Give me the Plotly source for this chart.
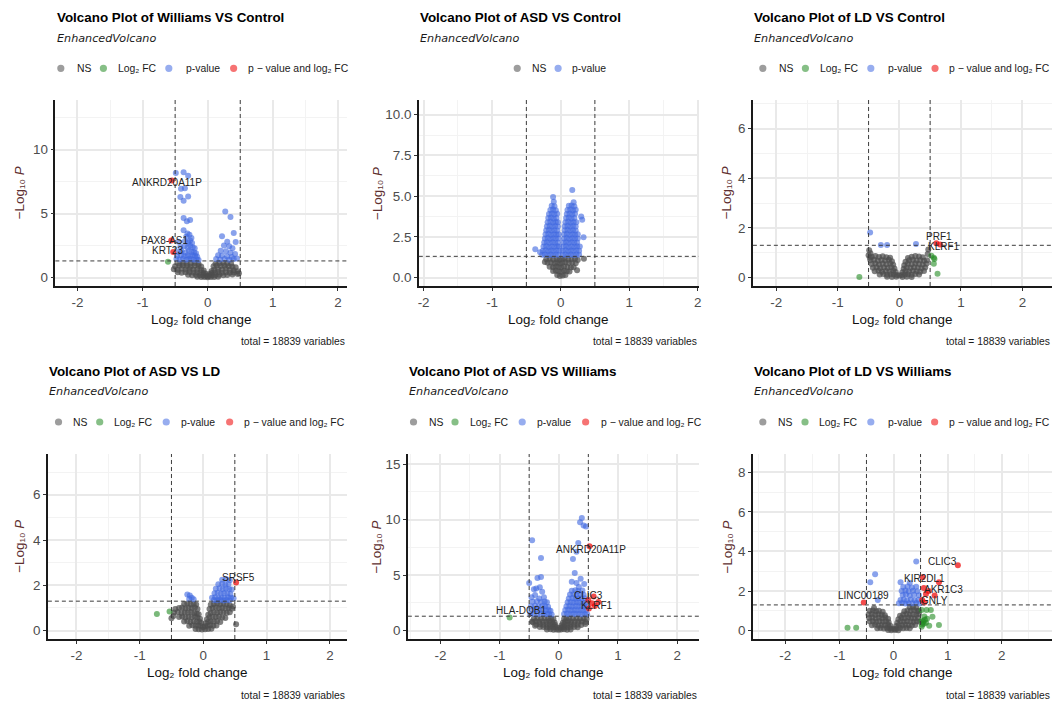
import math
import plotly.graph_objects as go

W, H = 1056, 704
FONT = "Liberation Sans, Arial, sans-serif"

FC_CUTOFF = 0.5
P_CUTOFF = 0.05

X_TICKS = [-2, -1, 0, 1, 2]
X_TICK_TEXT = ["-2", "-1", "0", "1", "2"]
X_MINOR = [-2.5, -1.5, -0.5, 0.5, 1.5, 2.5]

CATEGORIES = ["NS", "Log\u2082 FC", "p-value", "p \u2212 value and log\u2082 FC"]
CAPTION = "total = 18839 variables"
SUBTITLE = "EnhancedVolcano"
X_TITLE = "Log\u2082 fold change"
Y_TITLE = "\u2212Log\u2081\u2080 <i>P</i>"

# ---------------- Panel 1: Williams VS Control ----------------
wc_ns_x = [-0.44, -0.38, -0.32, -0.26, -0.20, -0.14, 0.12, 0.18, 0.24, 0.30, 0.36,
           -0.50, -0.44, -0.38, -0.32, -0.26, -0.20, -0.14, -0.10, 0.09, 0.14, 0.20, 0.26, 0.32, 0.38, 0.43,
           -0.52, -0.46, -0.40, -0.34, -0.28, -0.22, -0.16, -0.10, -0.06, 0.06, 0.10, 0.16, 0.22, 0.28, 0.34, 0.40, 0.46,
           -0.46, -0.40, -0.34, -0.28, -0.22, -0.16, -0.11, -0.06, -0.03, 0.03, 0.06, 0.11, 0.16, 0.22, 0.28, 0.34, 0.40, 0.48,
           -0.30, -0.24, -0.18, -0.12, -0.07, -0.03, 0.00, 0.03, 0.07, 0.12, 0.18, 0.24, 0.30, 0.38, 0.46,
           -0.16, -0.10, -0.05, 0.00, 0.05, 0.10, 0.16]
wc_ns_y = [1.10, 1.13, 1.08, 1.12, 1.14, 1.07, 1.09, 1.12, 1.14, 1.11, 1.08,
           0.88, 0.92, 0.95, 0.90, 0.87, 0.93, 0.91, 0.86, 0.89, 0.94, 0.90, 0.92, 0.88, 0.85, 0.80,
           0.66, 0.62, 0.68, 0.64, 0.67, 0.63, 0.66, 0.60, 0.55, 0.52, 0.62, 0.66, 0.64, 0.68, 0.62, 0.58, 0.50,
           0.42, 0.38, 0.41, 0.44, 0.39, 0.42, 0.40, 0.36, 0.30, 0.28, 0.35, 0.40, 0.43, 0.38, 0.41, 0.37, 0.40, 0.33,
           0.22, 0.18, 0.21, 0.19, 0.17, 0.14, 0.10, 0.15, 0.18, 0.20, 0.22, 0.19, 0.21, 0.24, 0.27,
           0.06, 0.04, 0.05, 0.03, 0.05, 0.04, 0.06]
wc_fc_x = [-0.61]
wc_fc_y = [1.23]
wc_p_x = [-0.49, -0.37, -0.30, -0.41, -0.35, -0.42, -0.37, -0.30,
          -0.37, -0.27, -0.32, -0.37, -0.31, -0.28, -0.33, -0.25,
          -0.45, -0.35, -0.30, -0.27, -0.24,
          -0.42, -0.36, -0.31, -0.27, -0.23, -0.20,
          -0.45, -0.40, -0.34, -0.29, -0.25, -0.21, -0.18,
          -0.47, -0.41, -0.36, -0.31, -0.27, -0.23, -0.19, -0.16,
          -0.48, -0.43, -0.38, -0.33, -0.29, -0.25, -0.21, -0.17, -0.14,
          0.27, 0.35, 0.40, 0.22, 0.43, 0.30, 0.25, 0.33, 0.38, 0.20, 0.28, 0.35,
          0.42, 0.16, 0.22, 0.30, 0.37, 0.13, 0.19, 0.26, 0.33, 0.40, 0.45]
wc_p_y = [8.18, 8.23, 7.97, 6.95, 6.98, 6.30, 6.00, 6.35,
          4.66, 4.50, 4.40, 3.70, 3.45, 3.35, 3.20, 3.10,
          2.80, 2.85, 2.75, 2.90, 2.70,
          2.40, 2.45, 2.35, 2.50, 2.38, 2.30,
          2.00, 2.05, 1.95, 2.10, 2.02, 1.98, 1.90,
          1.70, 1.75, 1.68, 1.72, 1.66, 1.74, 1.70, 1.62,
          1.45, 1.42, 1.48, 1.40, 1.46, 1.43, 1.40, 1.44, 1.38,
          5.16, 4.74, 3.49, 3.23, 2.79, 2.80, 2.50, 2.45, 2.30, 2.10, 2.05, 1.95,
          1.85, 1.75, 1.70, 1.65, 1.60, 1.45, 1.42, 1.45, 1.40, 1.45, 1.50]
wc_both_x = [-0.55, -0.56, -0.53]
wc_both_y = [7.60, 2.90, 2.00]
wc_labels = ["ANKRD20A11P", "PAX8-AS1", "KRT23"]
wc_label_x = [-0.62, -0.67, -0.62]
wc_label_y = [7.45, 2.91, 2.13]
wc_yticks = [0, 5, 10]
wc_yticktext = ["0", "5", "10"]
wc_yminor = [2.5, 7.5, 12.5]

# ---------------- Panel 2: ASD VS Control ----------------
ac_ns_x = [-0.21, -0.16, -0.11, -0.06, -0.02, 0.02, 0.06, 0.11, 0.16, 0.21, 0.25,
           -0.19, -0.14, -0.09, -0.05, -0.01, 0.03, 0.07, 0.12, 0.17, 0.22,
           -0.16, -0.11, -0.07, -0.03, 0.01, 0.05, 0.10, 0.15, 0.19,
           -0.11, -0.07, -0.03, 0.01, 0.05, 0.09, 0.13,
           -0.05, -0.01, 0.03, 0.07,
           0.34, -0.23, 0.24]
ac_ns_y = [1.12, 1.15, 1.10, 1.14, 1.09, 1.12, 1.15, 1.10, 1.13, 1.15, 1.08,
           0.90, 0.93, 0.88, 0.92, 0.86, 0.91, 0.94, 0.89, 0.92, 0.87,
           0.66, 0.63, 0.68, 0.64, 0.62, 0.67, 0.65, 0.61, 0.63,
           0.40, 0.42, 0.38, 0.36, 0.41, 0.39, 0.37,
           0.15, 0.10, 0.12, 0.16,
           1.15, 0.95, 0.45]
ac_fc_x = []
ac_fc_y = []
ac_p_x = [-0.27, -0.23, -0.19, -0.15, -0.11, -0.07, -0.03,
          -0.26, -0.22, -0.18, -0.14, -0.10, -0.06, -0.02,
          -0.25, -0.21, -0.17, -0.13, -0.09, -0.05, -0.02,
          -0.24, -0.20, -0.16, -0.12, -0.08, -0.04,
          -0.23, -0.19, -0.15, -0.11, -0.07, -0.03,
          -0.22, -0.18, -0.14, -0.10, -0.06, -0.03,
          -0.21, -0.17, -0.13, -0.09, -0.05,
          -0.20, -0.16, -0.12, -0.08, -0.04,
          -0.19, -0.15, -0.11, -0.07, -0.04,
          -0.18, -0.14, -0.10, -0.06,
          -0.17, -0.13, -0.09, -0.05,
          -0.15, -0.11, -0.07,
          -0.13, -0.09,
          -0.11, -0.10, -0.37, -0.30,
          0.03, 0.07, 0.11, 0.15, 0.19, 0.23, 0.27,
          0.03, 0.07, 0.11, 0.15, 0.19, 0.23, 0.27,
          0.04, 0.08, 0.12, 0.16, 0.20, 0.24, 0.28,
          0.04, 0.08, 0.12, 0.16, 0.20, 0.24,
          0.05, 0.09, 0.13, 0.17, 0.21, 0.25,
          0.05, 0.09, 0.13, 0.17, 0.21, 0.25,
          0.06, 0.10, 0.14, 0.18, 0.22,
          0.06, 0.10, 0.14, 0.18, 0.22,
          0.07, 0.11, 0.15, 0.19, 0.23,
          0.08, 0.12, 0.16, 0.20,
          0.09, 0.13, 0.17, 0.21,
          0.10, 0.14, 0.18, 0.22,
          0.12, 0.16, 0.20,
          0.17, 0.315, 0.30, 0.335, 0.19]
ac_p_y = [1.40, 1.42, 1.38, 1.41, 1.39, 1.42, 1.40,
          1.65, 1.67, 1.63, 1.66, 1.64, 1.66, 1.65,
          1.90, 1.92, 1.88, 1.91, 1.89, 1.92, 1.90,
          2.15, 2.17, 2.13, 2.16, 2.14, 2.15,
          2.40, 2.42, 2.38, 2.41, 2.39, 2.40,
          2.65, 2.67, 2.63, 2.66, 2.64, 2.65,
          2.90, 2.92, 2.88, 2.91, 2.89,
          3.15, 3.17, 3.13, 3.16, 3.14,
          3.40, 3.42, 3.38, 3.41, 3.39,
          3.65, 3.67, 3.63, 3.66,
          3.90, 3.92, 3.88, 3.91,
          4.15, 4.17, 4.13,
          4.40, 4.38,
          4.95, 4.65, 1.74, 1.55,
          1.40, 1.42, 1.38, 1.41, 1.39, 1.42, 1.40,
          1.65, 1.67, 1.63, 1.66, 1.64, 1.66, 1.65,
          1.90, 1.92, 1.88, 1.91, 1.89, 1.92, 1.90,
          2.15, 2.17, 2.13, 2.16, 2.14, 2.15,
          2.40, 2.42, 2.38, 2.41, 2.39, 2.40,
          2.65, 2.67, 2.63, 2.66, 2.64, 2.65,
          2.90, 2.92, 2.88, 2.91, 2.89,
          3.15, 3.17, 3.13, 3.16, 3.14,
          3.40, 3.42, 3.38, 3.41, 3.39,
          3.65, 3.67, 3.63, 3.66,
          3.90, 3.92, 3.88, 3.91,
          4.15, 4.17, 4.13, 4.16,
          4.40, 4.42, 4.38,
          5.38, 3.55, 3.75, 2.47, 4.62]
ac_both_x = []
ac_both_y = []
ac_labels = []
ac_label_x = []
ac_label_y = []
ac_yticks = [0, 2.5, 5, 7.5, 10]
ac_yticktext = ["0.0", "2.5", "5.0", "7.5", "10.0"]
ac_yminor = [1.25, 3.75, 6.25, 8.75]

# ---------------- Panel 3: LD VS Control ----------------
lc_ns_x = [-0.45, -0.39, -0.33, -0.27, -0.21, -0.15, 0.14, 0.20, 0.26, 0.32, 0.38,
           -0.47, -0.41, -0.35, -0.29, -0.23, -0.17, -0.12, 0.10, 0.16, 0.22, 0.28, 0.34, 0.40, 0.45,
           -0.45, -0.39, -0.33, -0.27, -0.21, -0.15, -0.10, 0.08, 0.14, 0.20, 0.26, 0.32, 0.38, 0.44,
           -0.43, -0.37, -0.31, -0.25, -0.19, -0.13, -0.08, 0.07, 0.12, 0.18, 0.24, 0.30, 0.36, 0.42,
           -0.40, -0.34, -0.28, -0.22, -0.16, -0.10, -0.06, 0.05, 0.10, 0.16, 0.22, 0.28, 0.34, 0.40,
           -0.32, -0.26, -0.20, -0.14, -0.09, -0.04, 0.00, 0.04, 0.09, 0.14, 0.20, 0.26, 0.32,
           -0.20, -0.12, -0.05, 0.05, 0.12, 0.20,
           -0.49, -0.47, -0.50, 0.47, -0.48, 0.46]
lc_ns_y = [0.84, 0.87, 0.83, 0.86, 0.82, 0.80, 0.79, 0.84, 0.87, 0.85, 0.82,
           0.70, 0.72, 0.68, 0.71, 0.69, 0.72, 0.66, 0.64, 0.70, 0.72, 0.69, 0.71, 0.68, 0.70,
           0.55, 0.57, 0.53, 0.56, 0.54, 0.57, 0.52, 0.50, 0.56, 0.54, 0.57, 0.55, 0.53, 0.56,
           0.40, 0.42, 0.38, 0.41, 0.39, 0.42, 0.37, 0.36, 0.41, 0.39, 0.42, 0.40, 0.38, 0.41,
           0.25, 0.27, 0.23, 0.26, 0.24, 0.27, 0.22, 0.21, 0.26, 0.24, 0.27, 0.25, 0.23, 0.26,
           0.12, 0.14, 0.11, 0.13, 0.12, 0.10, 0.08, 0.10, 0.12, 0.13, 0.11, 0.14, 0.12,
           0.03, 0.02, 0.03, 0.02, 0.03, 0.02,
           1.10, 0.98, 0.90, 1.13, 0.80, 0.95]
lc_fc_x = [-0.65, 0.52, 0.56, 0.57, 0.56, 0.62]
lc_fc_y = [0.02, 0.88, 0.80, 0.75, 0.56, 0.15]
lc_p_x = [-0.475, -0.30, -0.20, 0.27]
lc_p_y = [1.82, 1.31, 1.31, 1.35]
lc_both_x = [0.60, 0.66]
lc_both_y = [1.38, 1.33]
lc_labels = ["PRF1", "KLRF1"]
lc_label_x = [0.65, 0.73]
lc_label_y = [1.66, 1.24]
lc_yticks = [0, 2, 4, 6]
lc_yticktext = ["0", "2", "4", "6"]
lc_yminor = [1, 3, 5, 7]

# ---------------- Panel 4: ASD VS LD ----------------
al_ns_x = [-0.30, -0.25, -0.20, -0.15, -0.11, 0.12, 0.17, 0.22, 0.27, 0.32, 0.37, 0.42,
           -0.38, -0.33, -0.28, -0.23, -0.18, -0.13, -0.09, 0.10, 0.15, 0.20, 0.25, 0.30, 0.35, 0.40, 0.45,
           -0.46, -0.40, -0.34, -0.29, -0.24, -0.19, -0.14, -0.10, -0.07, 0.08, 0.12, 0.17, 0.22, 0.27, 0.32, 0.37, 0.42,
           -0.38, -0.33, -0.28, -0.23, -0.18, -0.13, -0.09, -0.05, 0.06, 0.10, 0.15, 0.20, 0.25, 0.30, 0.35,
           -0.30, -0.25, -0.20, -0.15, -0.10, -0.06, -0.03, 0.04, 0.08, 0.12, 0.17, 0.22, 0.27,
           -0.22, -0.17, -0.12, -0.08, -0.04, 0.00, 0.03, 0.07, 0.11, 0.16, 0.21,
           -0.12, -0.07, -0.02, 0.03, 0.08, 0.13,
           0.52, -0.50, -0.47, -0.44, 0.47]
al_ns_y = [1.18, 1.20, 1.16, 1.19, 1.15, 1.14, 1.18, 1.20, 1.17, 1.19, 1.16, 1.12,
           1.00, 1.02, 0.98, 1.01, 0.99, 1.02, 0.96, 0.95, 1.00, 1.02, 0.99, 1.01, 0.98, 1.00, 0.97,
           0.80, 0.82, 0.78, 0.81, 0.79, 0.82, 0.78, 0.76, 0.72, 0.70, 0.78, 0.81, 0.79, 0.82, 0.80, 0.78, 0.81,
           0.60, 0.62, 0.58, 0.61, 0.59, 0.62, 0.58, 0.52, 0.50, 0.59, 0.61, 0.60, 0.62, 0.58, 0.56,
           0.40, 0.42, 0.38, 0.41, 0.39, 0.40, 0.34, 0.33, 0.39, 0.41, 0.40, 0.42, 0.38,
           0.22, 0.24, 0.21, 0.23, 0.20, 0.16, 0.19, 0.22, 0.24, 0.21, 0.23,
           0.07, 0.06, 0.05, 0.06, 0.07, 0.08,
           0.28, 0.55, 0.65, 0.95, 1.07]
al_fc_x = [-0.73, -0.53]
al_fc_y = [0.73, 0.84]
al_p_x = [-0.25, -0.21, -0.18, -0.15, -0.22,
          0.30, 0.36, 0.42,
          0.24, 0.30, 0.35, 0.40,
          0.20, 0.26, 0.31, 0.36, 0.41, 0.45,
          0.18, 0.23, 0.28, 0.33, 0.38, 0.43,
          0.14, 0.19, 0.24, 0.29, 0.34, 0.39, 0.44, 0.48,
          0.17, 0.22, 0.27, 0.32, 0.37, 0.42]
al_p_y = [1.60, 1.55, 1.45, 1.38, 1.40,
          2.25, 2.28, 2.22,
          2.05, 2.07, 2.03, 2.06,
          1.85, 1.87, 1.83, 1.86, 1.84, 1.82,
          1.65, 1.67, 1.63, 1.66, 1.64, 1.62,
          1.45, 1.47, 1.43, 1.46, 1.44, 1.47, 1.45, 1.43,
          1.35, 1.34, 1.36, 1.33, 1.35, 1.34]
al_both_x = [0.52]
al_both_y = [2.13]
al_labels = ["SRSF5"]
al_label_x = [0.56]
al_label_y = [2.36]
al_yticks = [0, 2, 4, 6]
al_yticktext = ["0", "2", "4", "6"]
al_yminor = [1, 3, 5, 7]

# ---------------- Panel 5: ASD VS Williams ----------------
aw_ns_x = [-0.42, -0.36, -0.30, -0.24, -0.18, -0.13, -0.09, 0.09, 0.13, 0.18, 0.24, 0.30, 0.36, 0.42, 0.47,
           -0.45, -0.39, -0.33, -0.27, -0.21, -0.16, -0.11, -0.07, 0.07, 0.11, 0.16, 0.21, 0.27, 0.33, 0.39, 0.45,
           -0.38, -0.32, -0.26, -0.20, -0.15, -0.10, -0.06, 0.05, 0.10, 0.15, 0.20, 0.26, 0.32, 0.38,
           -0.32, -0.26, -0.20, -0.15, -0.10, -0.06, -0.03, 0.03, 0.06, 0.10, 0.15, 0.20, 0.26, 0.32,
           -0.20, -0.14, -0.09, -0.04, 0.00, 0.04, 0.09, 0.14, 0.20,
           -0.40, -0.44, 0.45]
aw_ns_y = [1.08, 1.10, 1.06, 1.09, 1.07, 1.10, 1.04, 1.04, 1.09, 1.07, 1.10, 1.08, 1.06, 1.09, 1.05,
           0.82, 0.84, 0.80, 0.83, 0.81, 0.84, 0.80, 0.74, 0.72, 0.82, 0.84, 0.81, 0.83, 0.80, 0.83, 0.78,
           0.56, 0.58, 0.54, 0.57, 0.55, 0.58, 0.50, 0.48, 0.57, 0.55, 0.58, 0.56, 0.54, 0.52,
           0.32, 0.34, 0.30, 0.33, 0.31, 0.34, 0.28, 0.27, 0.31, 0.33, 0.30, 0.34, 0.32, 0.30,
           0.10, 0.12, 0.09, 0.11, 0.08, 0.10, 0.12, 0.09, 0.11,
           0.45, 0.75, 0.60]
aw_fc_x = [-0.83]
aw_fc_y = [1.19]
aw_p_x = [-0.45, -0.30, -0.36, -0.30, -0.50, -0.42, -0.38, -0.32, -0.46, -0.40, -0.28, -0.33, -0.25,
          -0.44, -0.37, -0.30, -0.24, -0.20,
          -0.47, -0.40, -0.34, -0.28, -0.23, -0.18,
          -0.45, -0.39, -0.33, -0.27, -0.22, -0.17, -0.14,
          -0.48, -0.42, -0.36, -0.30, -0.25, -0.20, -0.16, -0.12,
          0.39, 0.36, 0.42, 0.46, 0.33, 0.30, 0.24, 0.37, 0.34, 0.27, 0.43, 0.22, 0.30,
          0.22, 0.28, 0.33, 0.40,
          0.19, 0.25, 0.30, 0.36, 0.42,
          0.17, 0.23, 0.28, 0.33, 0.38, 0.44,
          0.15, 0.20, 0.25, 0.30, 0.35, 0.40, 0.45,
          0.13, 0.18, 0.23, 0.28, 0.33, 0.38, 0.43, 0.47,
          0.11, 0.16, 0.21, 0.26, 0.31, 0.36, 0.41, 0.46,
          0.09, 0.14, 0.19, 0.24, 0.29, 0.34, 0.39, 0.44, 0.48]
aw_p_y = [8.13, 6.55, 4.73, 4.82, 4.29, 3.72, 3.80, 3.90, 3.00, 3.20, 3.50, 2.90, 3.00,
          2.60, 2.64, 2.58, 2.62, 2.56,
          2.20, 2.24, 2.18, 2.22, 2.19, 2.16,
          1.85, 1.88, 1.83, 1.87, 1.84, 1.86, 1.80,
          1.50, 1.53, 1.48, 1.52, 1.49, 1.51, 1.47, 1.45,
          10.15, 9.76, 9.46, 9.37, 7.90, 7.10, 6.46, 4.67, 3.93, 5.20, 4.20, 4.40, 4.30,
          3.60, 3.64, 3.58, 3.62,
          3.25, 3.28, 3.22, 3.27, 3.24,
          2.90, 2.93, 2.88, 2.92, 2.89, 2.91,
          2.55, 2.58, 2.53, 2.57, 2.54, 2.56, 2.52,
          2.20, 2.23, 2.18, 2.22, 2.19, 2.21, 2.18, 2.20,
          1.85, 1.88, 1.83, 1.87, 1.84, 1.86, 1.83, 1.85,
          1.50, 1.53, 1.48, 1.52, 1.49, 1.51, 1.48, 1.50, 1.47]
aw_both_x = [0.52, 0.50, 0.59, 0.56, 0.51, 0.61, 0.67]
aw_both_y = [7.60, 2.77, 3.07, 2.47, 2.00, 2.23, 2.59]
aw_labels = ["ANKRD20A11P", "CLIC3", "KLRF1", "HLA-DQB1"]
aw_label_x = [0.55, 0.51, 0.64, -0.64]
aw_label_y = [7.35, 3.13, 2.29, 1.85]
aw_yticks = [0, 5, 10, 15]
aw_yticktext = ["0", "5", "10", "15"]
aw_yminor = [2.5, 7.5, 12.5]

# ---------------- Panel 6: LD VS Williams ----------------
lw_ns_x = [0.30, 0.36, 0.42,
           -0.44, -0.38, -0.32, 0.20, 0.26, 0.32, 0.38, 0.44,
           -0.46, -0.40, -0.34, -0.28, -0.22, -0.16, 0.12, 0.18, 0.24, 0.30, 0.36, 0.42, 0.47,
           -0.45, -0.39, -0.33, -0.27, -0.21, -0.15, -0.10, 0.09, 0.15, 0.21, 0.27, 0.33, 0.39, 0.45,
           -0.44, -0.38, -0.32, -0.26, -0.20, -0.14, -0.09, 0.07, 0.13, 0.19, 0.25, 0.31, 0.37, 0.43, 0.48,
           -0.40, -0.34, -0.28, -0.22, -0.16, -0.10, -0.06, 0.05, 0.10, 0.16, 0.22, 0.28, 0.34, 0.40,
           -0.30, -0.24, -0.18, -0.12, -0.07, -0.03, 0.02, 0.06, 0.12, 0.18, 0.24, 0.30,
           -0.10, -0.04, 0.03, 0.09,
           -0.36, -0.27, -0.20, 0.47]
lw_ns_y = [1.18, 1.20, 1.16,
           1.00, 1.02, 0.98, 0.98, 1.02, 1.00, 1.03, 0.99,
           0.82, 0.84, 0.80, 0.83, 0.81, 0.78, 0.76, 0.82, 0.84, 0.81, 0.83, 0.80, 0.84,
           0.64, 0.66, 0.62, 0.65, 0.63, 0.66, 0.60, 0.58, 0.65, 0.63, 0.66, 0.64, 0.62, 0.65,
           0.46, 0.48, 0.44, 0.47, 0.45, 0.48, 0.42, 0.40, 0.47, 0.45, 0.48, 0.46, 0.44, 0.47, 0.45,
           0.28, 0.30, 0.26, 0.29, 0.27, 0.30, 0.25, 0.24, 0.29, 0.27, 0.30, 0.28, 0.26, 0.29,
           0.12, 0.14, 0.11, 0.13, 0.12, 0.10, 0.09, 0.11, 0.13, 0.12, 0.14, 0.12,
           0.03, 0.02, 0.03, 0.02,
           1.15, 1.00, 0.95, 1.00]
lw_fc_x = [-0.85, -0.69, 0.52, 0.61, 0.69, 0.72, 0.57, 0.52, 0.55, 0.58, 0.62, 0.53, 0.56, 0.60, 0.66, 0.84, 0.52]
lw_fc_y = [0.15, 0.15, 1.05, 1.05, 1.05, 0.70, 0.72, 0.50, 0.45, 0.55, 0.60, 0.30, 0.35, 0.40, 0.25, 0.29, 0.20]
lw_p_x = [0.42, -0.34, -0.43, -0.29,
          0.13, 0.30,
          0.18, 0.26, 0.34, 0.42,
          0.15, 0.22, 0.28, 0.36, 0.44,
          0.17, 0.23, 0.30, 0.38, 0.47,
          0.13, 0.19, 0.25, 0.32, 0.39, 0.46,
          0.10, 0.16, 0.22, 0.28, 0.35, 0.42, 0.48]
lw_p_y = [3.49, 2.85, 2.45, 1.55,
          2.45, 2.42,
          2.20, 2.23, 2.18, 2.22,
          2.00, 2.03, 1.98, 2.02, 1.99,
          1.80, 1.83, 1.78, 1.82, 1.79,
          1.55, 1.58, 1.53, 1.57, 1.54, 1.56,
          1.38, 1.40, 1.37, 1.39, 1.38, 1.40, 1.37]
lw_both_x = [-0.55, 1.19, 0.84, 0.54, 0.56, 0.60, 0.76, 0.53, 0.57, 0.65]
lw_both_y = [1.42, 3.30, 2.45, 2.70, 2.15, 1.85, 1.78, 1.55, 1.42, 2.00]
lw_labels = ["CLIC3", "KIR2DL1", "AKR1C3", "GNLY", "LINC00189"]
lw_label_x = [0.90, 0.57, 0.93, 0.75, -0.55]
lw_label_y = [3.47, 2.62, 2.07, 1.51, 1.76]
lw_yticks = [0, 2, 4, 6, 8]
lw_yticktext = ["0", "2", "4", "6", "8"]
lw_yminor = [1, 3, 5, 7]

# ---------------- styling / layout (pixels) ----------------
COLORS = ["#4d4d4d", "#228b22", "#4169e1", "#ee0000"]
OPACITY = [0.72, 0.6, 0.62, 0.7]
MARKER_SIZE = 6
LEGEND_FILL = ["rgba(77,77,77,0.55)", "rgba(34,139,34,0.55)", "rgba(65,105,225,0.55)", "rgba(238,0,0,0.55)"]

panels = [
    dict(title="Volcano Plot of Williams VS Control",
         series=[(wc_ns_x, wc_ns_y), (wc_fc_x, wc_fc_y), (wc_p_x, wc_p_y), (wc_both_x, wc_both_y)],
         labels=(wc_labels, wc_label_x, wc_label_y),
         yticks=(wc_yticks, wc_yticktext, wc_yminor),
         xr=[-2.34, 2.14], yr=[-0.66, 13.89],
         box=(54.5, 347, 100, 286), row=0,
         legend=[(0, 60, 75), (1, 102.7, 116), (2, 168.3, 184.3), (3, 233.3, 246.7)],
         ytitle_x=18.3),
    dict(title="Volcano Plot of ASD VS Control",
         series=[(ac_ns_x, ac_ns_y), (ac_fc_x, ac_fc_y), (ac_p_x, ac_p_y), (ac_both_x, ac_both_y)],
         labels=(ac_labels, ac_label_x, ac_label_y),
         yticks=(ac_yticks, ac_yticktext, ac_yminor),
         xr=[-2.07, 2.02], yr=[-0.52, 10.9],
         box=(419, 700, 100, 286), row=0,
         legend=[(0, 517.7, 532), (2, 558.7, 572)],
         ytitle_x=377),
    dict(title="Volcano Plot of LD VS Control",
         series=[(lc_ns_x, lc_ns_y), (lc_fc_x, lc_fc_y), (lc_p_x, lc_p_y), (lc_both_x, lc_both_y)],
         labels=(lc_labels, lc_label_x, lc_label_y),
         yticks=(lc_yticks, lc_yticktext, lc_yminor),
         xr=[-2.38, 2.48], yr=[-0.34, 7.16],
         box=(754, 1054, 100, 286), row=0,
         legend=[(0, 764, 779), (1, 806.7, 820), (2, 872.3, 888.3), (3, 936.7, 949.7)],
         ytitle_x=727.3),
    dict(title="Volcano Plot of ASD VS LD",
         series=[(al_ns_x, al_ns_y), (al_fc_x, al_fc_y), (al_p_x, al_p_y), (al_both_x, al_both_y)],
         labels=(al_labels, al_label_x, al_label_y),
         yticks=(al_yticks, al_yticktext, al_yminor),
         xr=[-2.45, 2.27], yr=[-0.37, 7.8],
         box=(47, 347, 454, 639), row=1,
         legend=[(0, 57.7, 70.7), (1, 99, 112.7), (2, 165.7, 180), (3, 229.3, 242.7)],
         ytitle_x=18.3),
    dict(title="Volcano Plot of ASD VS Williams",
         series=[(aw_ns_x, aw_ns_y), (aw_fc_x, aw_fc_y), (aw_p_x, aw_p_y), (aw_both_x, aw_both_y)],
         labels=(aw_labels, aw_label_x, aw_label_y),
         yticks=(aw_yticks, aw_yticktext, aw_yminor),
         xr=[-2.55, 2.37], yr=[-0.75, 15.9],
         box=(408, 700, 454, 639), row=1,
         legend=[(0, 413.7, 428), (1, 455.3, 469.3), (2, 522.7, 537), (3, 586.3, 600.3)],
         ytitle_x=377),
    dict(title="Volcano Plot of LD VS Williams",
         series=[(lw_ns_x, lw_ns_y), (lw_fc_x, lw_fc_y), (lw_p_x, lw_p_y), (lw_both_x, lw_both_y)],
         labels=(lw_labels, lw_label_x, lw_label_y),
         yticks=(lw_yticks, lw_yticktext, lw_yminor),
         xr=[-2.6, 2.93], yr=[-0.42, 8.92],
         box=(754, 1054, 454, 639), row=1,
         legend=[(0, 764, 778), (1, 806.3, 819.7), (2, 872.3, 888.3), (3, 936.3, 949.7)],
         ytitle_x=729),
]

# row-wise vertical positions (px from top)
ROW_Y = [dict(title=17.5, subtitle=38.3, legend=68.3, xtitle=319.5, caption=341.7),
         dict(title=371.5, subtitle=391.7, legend=422, xtitle=672.5, caption=695.3)]


def px_x(v):
    return v / W


def px_y(v):
    return 1 - v / H


fig = go.Figure()
annotations = []
shapes = []
layout_axes = {}

p_line = -math.log10(P_CUTOFF)
dash_style = dict(color="#3c3c3c", width=1, dash="4px,3px")

for i, pnl in enumerate(panels, start=1):
    s = "" if i == 1 else str(i)
    xa, ya = "x" + s, "y" + s
    L, R, T, B = pnl["box"]
    rowy = ROW_Y[pnl["row"]]

    for (xs, ys), col, op in zip(pnl["series"], COLORS, OPACITY):
        if len(xs) == 0:
            continue
        fig.add_trace(go.Scatter(
            x=xs, y=ys, mode="markers", xaxis=xa, yaxis=ya,
            marker=dict(size=MARKER_SIZE, color=col, opacity=op, line=dict(width=0)),
            showlegend=False, hoverinfo="skip"))

    yt, ytt, ym = pnl["yticks"]
    axis_common = dict(
        showline=True, linecolor="#1a1a1a", linewidth=1.5,
        ticks="outside", ticklen=3, tickwidth=1, tickcolor="#333333",
        showgrid=True, gridcolor="#e9e9e9", gridwidth=1.5, zeroline=False,
        tickfont=dict(family=FONT, size=13.4, color="#4d4d4d"),
        fixedrange=True)
    layout_axes["xaxis" + s] = dict(
        domain=[px_x(L), px_x(R)], range=pnl["xr"], anchor=ya,
        tickmode="array", tickvals=X_TICKS, ticktext=X_TICK_TEXT,
        minor=dict(tickmode="array", tickvals=X_MINOR, showgrid=True,
                   gridcolor="#f3f3f3", gridwidth=0.8),
        **axis_common)
    layout_axes["yaxis" + s] = dict(
        domain=[px_y(B), px_y(T)], range=pnl["yr"], anchor=xa,
        tickmode="array", tickvals=yt, ticktext=ytt,
        minor=dict(tickmode="array", tickvals=ym, showgrid=True,
                   gridcolor="#f3f3f3", gridwidth=0.8),
        **axis_common)

    # cut-off lines
    for xv in (-FC_CUTOFF, FC_CUTOFF):
        shapes.append(dict(type="line", xref=xa, yref=ya + " domain",
                           x0=xv, x1=xv, y0=0, y1=1, line=dash_style))
    shapes.append(dict(type="line", xref=xa + " domain", yref=ya,
                       x0=0, x1=1, y0=p_line, y1=p_line, line=dash_style))

    # gene labels
    names, lx, ly = pnl["labels"]
    for n, a, b in zip(names, lx, ly):
        annotations.append(dict(text=n, x=a, y=b, xref=xa, yref=ya, showarrow=False,
                                xanchor="center", yanchor="middle",
                                font=dict(family=FONT, size=10, color="#222222")))

    # titles
    annotations.append(dict(text=pnl["title"], x=px_x(L - 0.5), y=px_y(rowy["title"]),
                            xref="paper", yref="paper", showarrow=False,
                            xanchor="left", yanchor="middle",
                            font=dict(family=FONT, size=13.4, color="#000000", weight="bold")))
    annotations.append(dict(text=SUBTITLE, x=px_x(L - 0.5), y=px_y(rowy["subtitle"]),
                            xref="paper", yref="paper", showarrow=False,
                            xanchor="left", yanchor="middle",
                            font=dict(family="DejaVu Sans, sans-serif", size=11.2,
                                      color="#1a1a1a", style="italic")))
    # legend
    for cat, sx, tx in pnl["legend"]:
        shapes.append(dict(type="circle", xref="paper", yref="paper",
                           xsizemode="pixel", ysizemode="pixel",
                           xanchor=px_x(sx), yanchor=px_y(rowy["legend"]),
                           x0=-3.6, x1=3.6, y0=-3.6, y1=3.6,
                           fillcolor=LEGEND_FILL[cat], line=dict(width=0)))
        annotations.append(dict(text=CATEGORIES[cat], x=px_x(tx - 1), y=px_y(rowy["legend"]),
                                xref="paper", yref="paper", showarrow=False,
                                xanchor="left", yanchor="middle",
                                font=dict(family=FONT, size=10.4, color="#1a1a1a")))
    # axis titles
    annotations.append(dict(text=X_TITLE, x=px_x((L + R) / 2),
                            y=px_y(rowy["xtitle"]), xref="paper", yref="paper",
                            showarrow=False, xanchor="center", yanchor="middle",
                            font=dict(family=FONT, size=13.4, color="#111111")))
    annotations.append(dict(text=Y_TITLE, x=px_x(pnl["ytitle_x"]),
                            y=px_y((T + B) / 2), xref="paper", yref="paper",
                            showarrow=False, xanchor="center", yanchor="middle",
                            textangle=-90,
                            font=dict(family=FONT, size=13.4, color="#5e2f2f")))
    # caption
    annotations.append(dict(text=CAPTION, x=px_x(R), y=px_y(rowy["caption"]),
                            xref="paper", yref="paper", showarrow=False,
                            xanchor="right", yanchor="middle",
                            font=dict(family=FONT, size=10.3, color="#1a1a1a")))

fig.update_layout(
    width=W, height=H, autosize=False,
    margin=dict(l=0, r=0, t=0, b=0),
    paper_bgcolor="white", plot_bgcolor="white",
    showlegend=False,
    annotations=annotations, shapes=shapes,
    **layout_axes)

fig.write_html("out.html", config=dict(displayModeBar=False))
